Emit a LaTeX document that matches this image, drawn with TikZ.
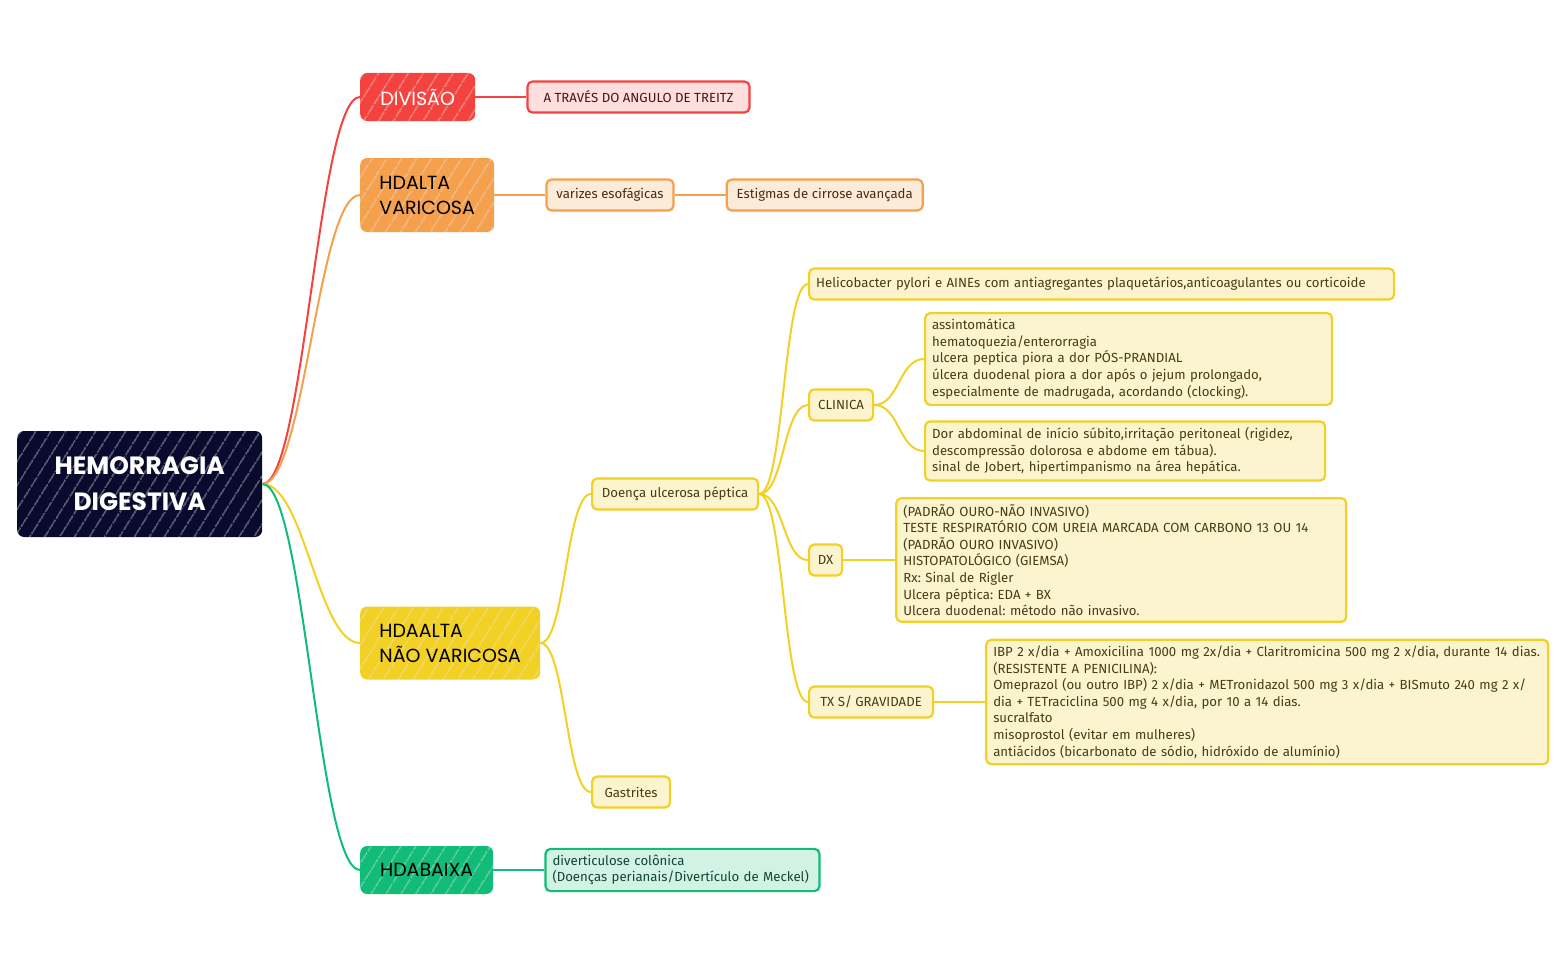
\documentclass[tikz,border=0pt]{standalone}
\usepackage{fontspec}
\setmainfont{Fira Sans}
\newfontfamily\titlefont{Poppins}
\usetikzlibrary{positioning,patterns.meta}
\definecolor{navy}{HTML}{0A0A2E}
\definecolor{redA}{HTML}{F4433F}
\definecolor{redL}{HTML}{FFDEDE}
\definecolor{redD}{HTML}{4A1414}
\definecolor{orangeA}{HTML}{F5A04C}
\definecolor{orangeL}{HTML}{FDEBD9}
\definecolor{orangeD}{HTML}{4A2C12}
\definecolor{yellowA}{HTML}{F2D024}
\definecolor{yellowL}{HTML}{FCF4CF}
\definecolor{yellowD}{HTML}{483D12}
\definecolor{greenA}{HTML}{10BC78}
\definecolor{greenL}{HTML}{D3F2E6}
\definecolor{greenD}{HTML}{0F4634}
\frenchspacing

\begin{document}
\begin{tikzpicture}[x=1pt,y=-1pt,node distance=51pt]
  \tikzstyle{ramo}=[rounded corners=7pt,anchor=west,inner xsep=19pt,minimum height=48pt,align=left,font=\titlefont\fontsize{19}{25}\selectfont,postaction={pattern={Lines[angle=58,distance=13pt,line width=0.7pt]},pattern color=white!80!gray}]
  \tikzstyle{folha}=[draw,line width=2.2pt,rounded corners=5pt,anchor=west,inner xsep=7pt,inner ysep=6pt,minimum height=31pt,align=left,font=\fontsize{13.2}{16.6}\selectfont]
  \tikzstyle{galho}=[line width=2pt]
  \useasboundingbox (0,0) rectangle (1561,966);

  \node[ramo,fill=navy,text=white,align=center,minimum width=245pt,minimum height=106pt,font=\titlefont\bfseries\fontsize{25}{36}\selectfont] (raiz) at (17,484) {HEMORRAGIA\\DIGESTIVA};
  \node[ramo,fill=redA,text=white,minimum width=115pt] (divisao) at (360,97) {DIVISÃO};
  \node[ramo,fill=orangeA,minimum width=134pt,minimum height=74pt] (varicosa) at (360,195) {HDALTA\\VARICOSA};
  \node[ramo,fill=yellowA,minimum width=180pt,minimum height=73pt] (naovaricosa) at (360,643) {HDAALTA\\NÃO VARICOSA};
  \node[ramo,fill=greenA,minimum width=133pt] (baixa) at (360,870) {HDABAIXA};

  \node[folha,draw=redA,fill=redL,text=redD,minimum width=222pt,right=of divisao] (treitz) {A TRAVÉS DO ANGULO DE TREITZ};
  \node[folha,draw=orangeA,fill=orangeL,text=orangeD,minimum width=127pt,right=of varicosa] (varizes) {varizes esofágicas};
  \node[folha,draw=orangeA,fill=orangeL,text=orangeD,minimum width=196pt,right=of varizes] (estigmas) {Estigmas de cirrose avançada};

  \node[folha,draw=yellowA,fill=yellowL,text=yellowD,minimum width=166pt] (doenca) at (591,494) {Doença ulcerosa péptica};
  \node[folha,draw=yellowA,fill=yellowL,text=yellowD,minimum width=78pt] (gastrites) at (591,792) {Gastrites};
  \node[folha,draw=yellowA,fill=yellowL,text=yellowD,text width=571pt] (helico) at (808,284) {Helicobacter pylori e AINEs com antiagregantes plaquetários,anticoagulantes ou corticoide};
  \node[folha,draw=yellowA,fill=yellowL,text=yellowD,minimum width=64pt] (clinica) at (808,405) {CLINICA};
  \node[folha,draw=yellowA,fill=yellowL,text=yellowD,text width=393pt] (clinicaum) at (924,359) {assintomática\\hematoquezia/enterorragia\\ulcera peptica piora a dor PÓS-PRANDIAL\\úlcera duodenal piora a dor após o jejum prolongado,\\especialmente de madrugada, acordando (clocking).};
  \node[folha,draw=yellowA,fill=yellowL,text=yellowD,text width=386pt] (clinicadois) at (924,451) {Dor abdominal de início súbito,irritação peritoneal (rigidez,\\descompressão dolorosa e abdome em tábua).\\sinal de Jobert, hipertimpanismo na área hepática.};
  \node[folha,draw=yellowA,fill=yellowL,text=yellowD,minimum width=33pt] (dx) at (808,560) {DX};
  \node[folha,draw=yellowA,fill=yellowL,text=yellowD,text width=436pt,right=52pt of dx] (dxtexto) {(PADRÃO OURO-NÃO INVASIVO)\\TESTE RESPIRATÓRIO COM UREIA MARCADA COM CARBONO 13 OU 14\\(PADRÃO OURO INVASIVO)\\HISTOPATOLÓGICO (GIEMSA)\\Rx: Sinal de Rigler\\Ulcera péptica: EDA + BX\\Ulcera duodenal: método não invasivo.};
  \node[folha,draw=yellowA,fill=yellowL,text=yellowD,minimum width=124pt] (tx) at (808,702) {TX S/ GRAVIDADE};
  \node[folha,draw=yellowA,fill=yellowL,text=yellowD,text width=548pt,right=of tx] (txtexto) {IBP 2 x/dia + Amoxicilina 1000 mg 2x/dia + Claritromicina 500 mg 2 x/dia, durante 14 dias.\\(RESISTENTE A PENICILINA):\\Omeprazol (ou outro IBP) 2 x/dia + METronidazol 500 mg 3 x/dia + BISmuto 240 mg 2 x/\\dia + TETraciclina 500 mg 4 x/dia, por 10 a 14 dias.\\sucralfato\\misoprostol (evitar em mulheres)\\antiácidos (bicarbonato de sódio, hidróxido de alumínio)};

  \node[folha,draw=greenA,fill=greenL,text=greenD,text width=260pt,right=of baixa] (diverticulose) {diverticulose colônica\\(Doenças perianais/Divertículo de Meckel)};

  \draw[galho,redA] (raiz.east) .. controls +(42,0) and +(-42,0) .. (divisao.west);
  \draw[galho,orangeA] (raiz.east) .. controls +(42,0) and +(-42,0) .. (varicosa.west);
  \draw[galho,yellowA] (raiz.east) .. controls +(42,0) and +(-42,0) .. (naovaricosa.west);
  \draw[galho,greenA] (raiz.east) .. controls +(42,0) and +(-42,0) .. (baixa.west);
  \draw[galho,redA] (divisao) -- (treitz);
  \draw[galho,orangeA] (varicosa) -- (varizes);
  \draw[galho,orangeA] (varizes) -- (estigmas);
  \draw[galho,yellowA] (naovaricosa.east) .. controls +(25,0) and +(-25,0) .. (doenca.west);
  \draw[galho,yellowA] (naovaricosa.east) .. controls +(25,0) and +(-25,0) .. (gastrites.west);
  \draw[galho,yellowA] (doenca.east) .. controls +(25,0) and +(-25,0) .. (helico.west);
  \draw[galho,yellowA] (doenca.east) .. controls +(25,0) and +(-25,0) .. (clinica.west);
  \draw[galho,yellowA] (doenca.east) .. controls +(25,0) and +(-25,0) .. (dx.west);
  \draw[galho,yellowA] (doenca.east) .. controls +(25,0) and +(-25,0) .. (tx.west);
  \draw[galho,yellowA] (clinica.east) .. controls +(25,0) and +(-25,0) .. (clinicaum.west);
  \draw[galho,yellowA] (clinica.east) .. controls +(25,0) and +(-25,0) .. (clinicadois.west);
  \draw[galho,yellowA] (dx) -- (dxtexto);
  \draw[galho,yellowA] (tx) -- (txtexto);
  \draw[galho,greenA] (baixa) -- (diverticulose);
\end{tikzpicture}
\end{document}
